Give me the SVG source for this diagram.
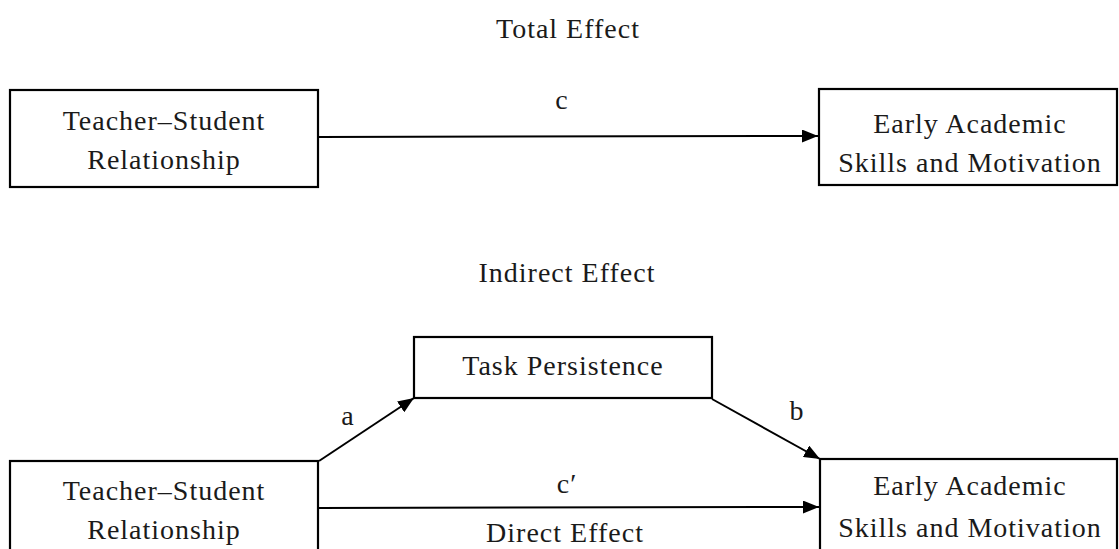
<svg xmlns="http://www.w3.org/2000/svg" width="1119" height="549" viewBox="0 0 1119 549">
<defs>
<marker id="ah" markerWidth="16" markerHeight="13" refX="16" refY="6.5" orient="auto" markerUnits="userSpaceOnUse">
<path d="M0,0 L16,6.5 L0,13 Z" fill="#000"/>
</marker>
</defs>
<style>
.box{fill:#fff;stroke:#000;stroke-width:2.2}
.t{font-family:"Liberation Serif","DejaVu Serif",serif;font-size:28px;letter-spacing:1px;fill:#1a1a1a;text-anchor:middle}
.c{stroke:#000;stroke-width:2;fill:none;marker-end:url(#ah)}
</style>
<rect width="1119" height="549" fill="#fff"/>
<text class="t" x="568" y="38">Total Effect</text>
<text class="t" x="567" y="282">Indirect Effect</text>
<g id="connectors">
<line class="c" x1="319" y1="137" x2="818" y2="136"/>
<line class="c" x1="319" y1="461" x2="414" y2="398"/>
<line class="c" x1="712" y1="399" x2="820" y2="459"/>
<line class="c" x1="319" y1="508" x2="819" y2="507"/>
<text class="t" x="562" y="109">c</text>
<text class="t" x="348" y="425">a</text>
<text class="t" x="797" y="420">b</text>
<text class="t" x="567" y="493">c′</text>
<text class="t" x="565" y="542" font-size="27">Direct Effect</text>
</g>
<g id="n1">
<rect class="box" x="10" y="90" width="308" height="97"/>
<text class="t" x="164" y="130">Teacher–Student</text>
<text class="t" x="164" y="169">Relationship</text>
</g>
<g id="n2">
<rect class="box" x="819" y="89" width="298" height="96"/>
<text class="t" x="970" y="133">Early Academic</text>
<text class="t" x="970" y="172">Skills and Motivation</text>
</g>
<g id="n3">
<rect class="box" x="414" y="337" width="298" height="61"/>
<text class="t" x="563" y="375">Task Persistence</text>
</g>
<g id="n4">
<rect class="box" x="10" y="461" width="308" height="100"/>
<text class="t" x="164" y="500">Teacher–Student</text>
<text class="t" x="164" y="539">Relationship</text>
</g>
<g id="n5">
<rect class="box" x="820" y="459" width="297" height="100"/>
<text class="t" x="970" y="495">Early Academic</text>
<text class="t" x="970" y="537">Skills and Motivation</text>
</g>
</svg>
